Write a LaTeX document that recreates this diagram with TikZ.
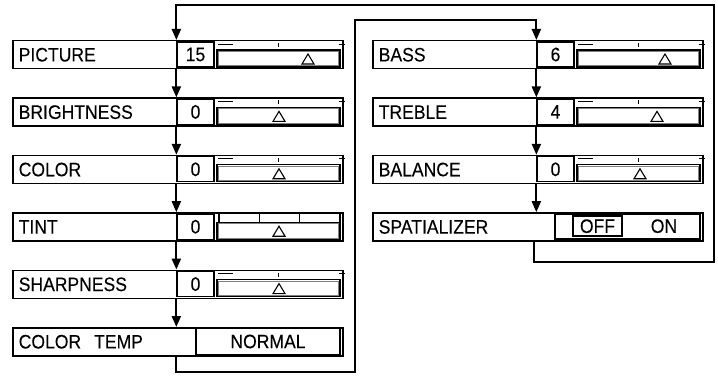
\documentclass[tikz,border=0pt]{standalone}
\usepackage{fontspec}
\setmainfont[FakeStretch=0.9,FakeBold=0.15]{Liberation Sans}
\usetikzlibrary{arrows.meta}
\tikzset{
  rowbox/.style={draw, line width=1.5pt, anchor=north west, minimum width=330pt,
    minimum height=28pt, text width=318pt, inner xsep=6pt, inner ysep=0pt, align=left},
  valbox/.style={draw, line width=1.3pt, minimum width=37pt, minimum height=25pt, inner sep=0pt},
  barbox/.style={draw, line width=1.3pt, minimum width=123pt, minimum height=17pt, inner sep=0pt},
  optbox/.style={draw, line width=1.3pt, inner sep=0pt},
  slmark/.style={line width=0.9pt},
  conn/.style={line width=2.2pt, -{Triangle[length=11pt,width=9pt]}},
}
\newcommand\slrow[6]{%
  \node[rowbox] (#1) at (#4,#5) {#2};
  \node[valbox] (#1-v) at (#4+183.5,#5+14.5) {#3};
  \node[barbox] (#1-b) at (#4+266.5,#5+18.5) {};
  \draw[gray,line width=0.6pt] ([shift={(2,2)}]#1-b.north west) rectangle ([shift={(-2,-2)}]#1-b.south east);
  \draw[line width=1.1pt] (#6,#5+14) -- (#6+6,#5+24) -- (#6-6,#5+24) -- cycle;
}
\newcommand\scalemarks[2]{%
  \draw[slmark] (#1+206,#2+4) -- (#1+221,#2+4);
  \draw[slmark] (#1+266.5,#2+3) -- (#1+266.5,#2+7);
  \draw[slmark] (#1+327,#2+4) -- (#1+333,#2+4) (#1+330,#2+1) -- (#1+330,#2+7);
}
\begin{document}
\begin{tikzpicture}[x=1pt,y=-1pt,font=\fontsize{19.5}{22}\selectfont]
\useasboundingbox (0,0) rectangle (718,377);
% left column
\slrow{picture}{PICTURE}{15}{12}{40}{308}
\scalemarks{12}{40}
\slrow{brightness}{BRIGHTNESS}{0}{12}{97.4}{279}
\scalemarks{12}{97.4}
\slrow{color}{COLOR}{0}{12}{154.8}{279}
\scalemarks{12}{154.8}
\slrow{tint}{TINT}{0}{12}{212.2}{279}
\draw[line width=1.1pt] (219,213.2) rectangle (340,222.2);
\draw[line width=1.1pt] (259.3,213.2) -- (259.3,222.2) (299.7,213.2) -- (299.7,222.2);
\slrow{sharpness}{SHARPNESS}{0}{12}{269.6}{279}
\scalemarks{12}{269.6}
\node[rowbox] (colortemp) at (12,327) {COLOR\ \ TEMP};
\node[optbox, minimum width=144pt, minimum height=26pt] (colortemp-o) at (268,341.5) {NORMAL};
% right column
\slrow{bass}{BASS}{6}{372}{40}{665}
\scalemarks{372}{40}
\slrow{treble}{TREBLE}{4}{372}{97.4}{657}
\scalemarks{372}{97.4}
\slrow{balance}{BALANCE}{0}{372}{154.8}{640}
\scalemarks{372}{154.8}
\node[rowbox] (spatializer) at (372,212.2) {SPATIALIZER};
\node[optbox, minimum width=145pt, minimum height=25pt] (spatializer-o) at (627.5,226.5) {};
\node[optbox, line width=1.6pt, minimum width=49pt, minimum height=20pt] (spatializer-off) at (597.5,226.2) {OFF};
\node[inner sep=0pt] (spatializer-on) at (664,226.2) {ON};
% arrows in columns
\foreach \a/\b in {picture/brightness,brightness/color,color/tint,tint/sharpness}
  \draw[conn] (\a.south -| \a-v.west) -- (\b.north -| \a-v.west);
\draw[conn] (sharpness.south -| sharpness-v.west) -- (colortemp.north -| sharpness-v.west);
\foreach \a/\b in {bass/treble,treble/balance}
  \draw[conn] (\a.south -| \a-v.west) -- (\b.north -| \a-v.west);
\draw[conn] (balance.south -| balance-v.west) -- (spatializer.north -| balance-v.west);
% loops
\coordinate (spdrop) at (534,262);
\coordinate (otop) at (714,5);
\draw[conn] (spatializer.south -| spdrop) -- (spdrop) -| (otop) -| (picture.north -| picture-v.west);
\coordinate (ibot) at (355,372);
\coordinate (itop) at (355,20);
\draw[conn] (colortemp.south -| picture-v.west) |- (ibot) -- (itop) -| (bass.north -| bass-v.west);
\end{tikzpicture}
\end{document}
